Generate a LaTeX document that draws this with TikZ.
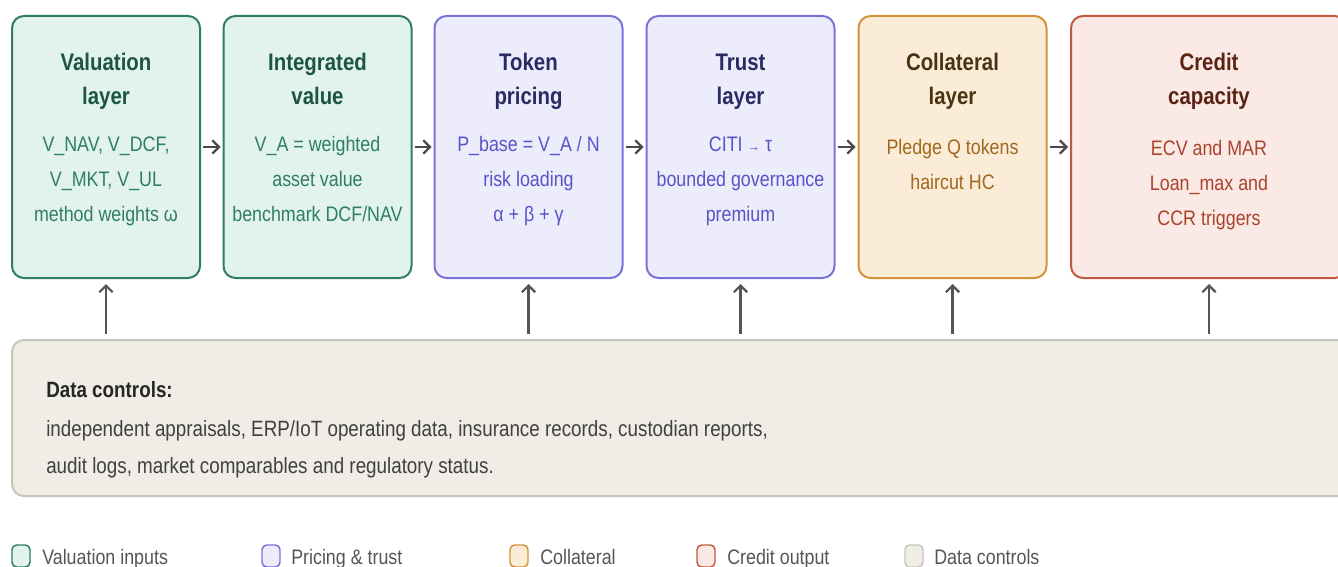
\documentclass[tikz,border=0pt]{standalone}
\usepackage{fontspec}
\setmainfont{Liberation Sans}[FakeStretch=0.85]
\usepackage{tikz}
\usetikzlibrary{arrows.meta}

% layer colours
\definecolor{valfill}{HTML}{E1F3EC}
\definecolor{valline}{HTML}{2F7D66}
\definecolor{valhead}{HTML}{1D5545}
\definecolor{prcfill}{HTML}{ECECFB}
\definecolor{prcline}{HTML}{7A72D8}
\definecolor{prchead}{HTML}{2B2A63}
\definecolor{prctext}{HTML}{5A52C8}
\definecolor{colfill}{HTML}{FBECD8}
\definecolor{colline}{HTML}{D4923A}
\definecolor{colhead}{HTML}{4A3312}
\definecolor{coltext}{HTML}{A0681C}
\definecolor{crdfill}{HTML}{FAE9E4}
\definecolor{crdline}{HTML}{C25A40}
\definecolor{crdhead}{HTML}{5A2414}
\definecolor{crdtext}{HTML}{A8442B}
\definecolor{ctlfill}{HTML}{F0EDE6}
\definecolor{ctlline}{HTML}{C8C5BD}
\definecolor{arrowgray}{HTML}{4A4A4A}
\definecolor{keygray}{HTML}{555555}

\newcommand{\ttlfont}{\fontsize{18pt}{25.5pt}\selectfont\bfseries}
\newcommand{\txtfont}{\fontsize{15.75pt}{26.25pt}\selectfont}
\newcommand{\ctlfont}{\fontsize{16.6pt}{27.75pt}\selectfont}

\begin{document}
\begin{tikzpicture}[
    x=0.75pt, y=-0.75pt,
    layer/.style={draw, line width=1.5pt, rounded corners=9pt,
        minimum width=141pt, minimum height=196.5pt, inner sep=0pt},
    ttl/.style={anchor=base, align=center, font=\ttlfont, inner sep=0pt},
    txt/.style={anchor=base, align=center, font=\txtfont, inner sep=0pt},
    flow/.style={-{Straight Barb[length=5pt,width=10pt]}, line width=1.6pt,
        draw=arrowgray, shorten <=1.5pt, shorten >=1.5pt},
    feed/.style={-{Straight Barb[length=5pt,width=10pt]}, line width=1.6pt,
        draw=keygray, shorten <=3.75pt, shorten >=3.75pt},
    key/.style={draw, line width=1.1pt, rounded corners=3.5pt,
        minimum width=13.5pt, minimum height=16.5pt, inner sep=0pt},
    keytext/.style={anchor=base west, font=\txtfont, text=keygray, inner sep=0pt}
]

\useasboundingbox (0,0) rectangle (1338,567);

% Valuation layer (text nodes sit on the baseline of their last line)
\node[layer, fill=valfill, draw=valline] (val) at (106,147) {};
\node[ttl, text=valhead] (val-t) at (106,104) {Valuation\\layer};
\node[txt, text=valline] (val-b) at (106,221) {V\_NAV, V\_DCF,\\V\_MKT, V\_UL\\method weights ω};

% Integrated value
\node[layer, fill=valfill, draw=valline] (itg) at (317.5,147) {};
\node[ttl, text=valhead] (itg-t) at (317.5,104) {Integrated\\value};
\node[txt, text=valline] (itg-b) at (317.5,221) {V\_A = weighted\\asset value\\benchmark DCF/NAV};

% Token pricing
\node[layer, fill=prcfill, draw=prcline] (tok) at (528.5,147) {};
\node[ttl, text=prchead] (tok-t) at (528.5,104) {Token\\pricing};
\node[txt, text=prctext] (tok-b) at (528.5,221) {P\_base = V\_A / N\\risk loading\\α + β + γ};

% Trust layer
\node[layer, fill=prcfill, draw=prcline] (trs) at (740.5,147) {};
\node[ttl, text=prchead] (trs-t) at (740.5,104) {Trust\\layer};
\node[txt, text=prctext] (trs-b) at (740.5,221) {CITI {\fontsize{11pt}{11pt}\selectfont →} τ\\bounded governance\\premium};

% Collateral layer
\node[layer, fill=colfill, draw=colline] (col) at (952.5,147) {};
\node[ttl, text=colhead] (col-t) at (952.5,104) {Collateral\\layer};
\node[txt, text=coltext] (col-b) at (952.5,189) {Pledge Q tokens\\haircut HC};

% Credit capacity
\node[layer, fill=crdfill, draw=crdline, minimum width=207pt] (crd) at (1209,147) {};
\node[ttl, text=crdhead] (crd-t) at (1209,104) {Credit\\capacity};
\node[txt, text=crdtext] (crd-b) at (1209,225) {ECV and MAR\\Loan\_max and\\CCR triggers};

% Data controls
\node[layer, fill=ctlfill, draw=ctlline, minimum width=1011pt, minimum height=117pt] (ctl) at (686,418) {};
\node[anchor=base west, font=\ctlfont\bfseries, text=black!85, inner sep=0pt] (ctl-t) at (46,397) {Data controls:};
\node[anchor=base west, align=left, font=\ctlfont, text=black!75, inner sep=0pt] (ctl-b) at (46,473)
    {independent appraisals, ERP/IoT operating data, insurance records, custodian reports,\\audit logs, market comparables and regulatory status.};

% Pipeline arrows
\draw[flow] (val.east) -- (itg.west);
\draw[flow] (itg.east) -- (tok.west);
\draw[flow] (tok.east) -- (trs.west);
\draw[flow] (trs.east) -- (col.west);
\draw[flow] (col.east) -- (crd.west);

% Controls feeding the layers
\foreach \n in {val,tok,trs,col,crd}
    \draw[feed] (ctl.north -| \n.south) -- (\n.south);

% Legend
\node[key, fill=valfill, draw=valline] (k-val) at (21,556) {};
\node[keytext] (k-val-t) at (42,564) {Valuation inputs};
\node[key, fill=prcfill, draw=prcline] (k-prc) at (271,556) {};
\node[keytext] (k-prc-t) at (291,564) {Pricing \& trust};
\node[key, fill=colfill, draw=colline] (k-col) at (519,556) {};
\node[keytext] (k-col-t) at (540,564) {Collateral};
\node[key, fill=crdfill, draw=crdline] (k-crd) at (706,556) {};
\node[keytext] (k-crd-t) at (727,564) {Credit output};
\node[key, fill=ctlfill, draw=ctlline] (k-ctl) at (914,556) {};
\node[keytext] (k-ctl-t) at (934,564) {Data controls};

\end{tikzpicture}
\end{document}
